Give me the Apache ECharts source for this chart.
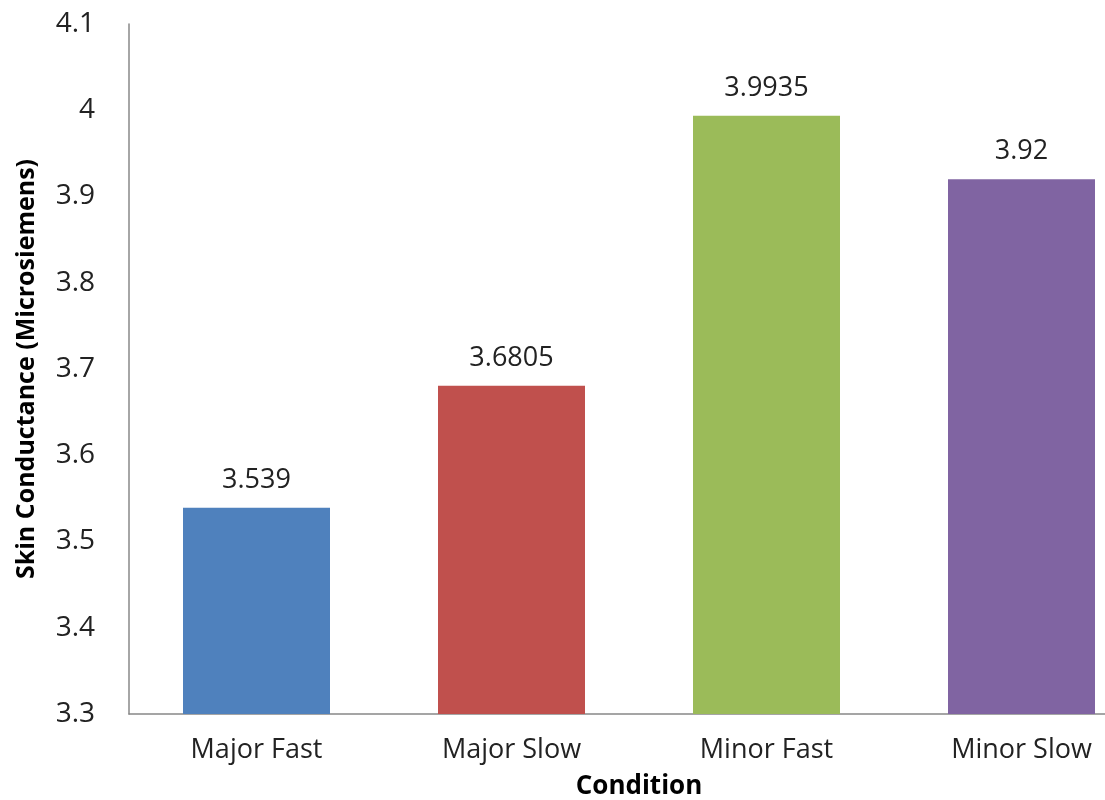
<!DOCTYPE html>
<html>
<head>
<meta charset="utf-8">
<script src="https://cdn.jsdelivr.net/npm/echarts@6/dist/echarts.min.js"></script>
<style>
html,body{margin:0;padding:0;background:#fff;}
#chart{width:1105px;height:800px;}
</style>
</head>
<body>
<div id="chart"></div>
<script>
const categories = ["Major Fast", "Major Slow", "Minor Fast", "Minor Slow"];
const values = [3.539, 3.6805, 3.9935, 3.92];
const valueLabels = ["3.539", "3.6805", "3.9935", "3.92"];
const barColors = ["#4F81BD", "#C0504D", "#9BBB59", "#8064A2"];
const yTitle = "Skin Conductance (Microsiemens)";
const xTitle = "Condition";

const FONT = "'Open Sans', sans-serif";
const chart = echarts.init(document.getElementById('chart'));
chart.setOption({
  animation: false,
  grid: { left: 129, top: 24, width: 1020, height: 690, containLabel: false, outerBoundsMode: 'none' },
  xAxis: {
    type: 'category',
    data: categories,
    name: xTitle,
    nameLocation: 'middle',
    nameGap: 60,
    nameTextStyle: { fontFamily: FONT, fontSize: 26, fontWeight: 'bold', color: '#000' },
    axisLine: { lineStyle: { color: '#888', width: 1.5 } },
    axisTick: { show: false },
    axisLabel: { fontFamily: FONT, fontSize: 27, color: '#222', margin: 23 }
  },
  yAxis: {
    type: 'value',
    min: 3.3, max: 4.1, interval: 0.1,
    name: yTitle,
    nameLocation: 'middle',
    nameGap: 90,
    nameTextStyle: { fontFamily: FONT, fontSize: 25, fontWeight: 'bold', color: '#000' },
    axisLine: { show: true, lineStyle: { color: '#888', width: 1.5 } },
    axisTick: { show: false },
    splitLine: { show: false },
    axisLabel: {
      fontFamily: FONT, fontSize: 28, color: '#222', margin: 34,
      formatter: v => String(Math.round(v * 10) / 10)
    }
  },
  series: [{
    type: 'bar',
    barWidth: 147,
    data: values.map((v, i) => ({ value: v, itemStyle: { color: barColors[i] } })),
    label: {
      show: true, position: 'top', distance: 14,
      fontFamily: FONT, fontSize: 27, color: '#222',
      formatter: p => valueLabels[p.dataIndex]
    }
  }]
});
</script>
</body>
</html>
